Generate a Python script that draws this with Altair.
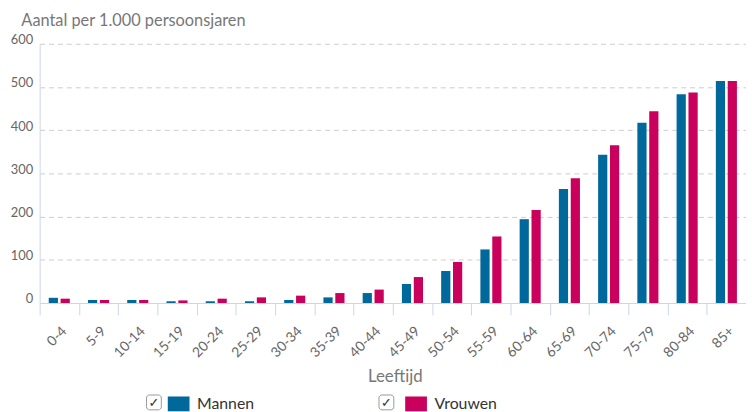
import altair as alt
import pandas as pd

ages = ["0-4", "5-9", "10-14", "15-19", "20-24", "25-29", "30-34", "35-39", "40-44",
        "45-49", "50-54", "55-59", "60-64", "65-69", "70-74", "75-79", "80-84", "85+"]
mannen = [12, 7, 7, 4, 4, 4, 7, 13, 23, 44, 74, 124, 194, 264, 343, 417, 483, 514]
vrouwen = [10, 7, 7, 6, 10, 13, 17, 23, 31, 60, 95, 154, 215, 289, 365, 444, 487, 514]
series = ["Mannen", "Vrouwen"]
colors = ["#01689b", "#ca005d"]
y_ticks = [0, 100, 200, 300, 400, 500, 600]

rows = []
for a, m, v in zip(ages, mannen, vrouwen):
    rows.append({"Leeftijd": a, "Geslacht": series[0], "Waarde": m})
    rows.append({"Leeftijd": a, "Geslacht": series[1], "Waarde": v})
df = pd.DataFrame(rows)

FONT = "Lato"
W, H = 714, 262

bars = alt.Chart(df).mark_bar().encode(
    x=alt.X("Leeftijd:N", sort=ages,
            scale=alt.Scale(paddingInner=0, paddingOuter=0),
            axis=alt.Axis(labelAngle=-45, tickBand="extent", tickSize=12,
                          tickColor="#ccd6eb", domainColor="#ccd6eb",
                          labelColor="#666666", labelFontSize=14, labelFont=FONT,
                          labelPadding=9,
                          title="Leeftijd", titleFont=FONT, titleFontSize=17,
                          titleFontWeight="normal", titleColor="#777777",
                          titleX=359, titleY=79, titleBaseline="alphabetic")),
    xOffset=alt.XOffset("Geslacht:N", sort=series,
                        scale=alt.Scale(paddingInner=0.225, paddingOuter=0.765)),
    y=alt.Y("Waarde:Q", scale=alt.Scale(domain=[0, 600], nice=False),
            axis=alt.Axis(values=y_ticks, grid=True, gridDash=[5, 4], gridColor="#cccccc",
                          ticks=False, domainColor="#ccd6eb",
                          labelColor="#666666", labelFontSize=13, labelFont=FONT,
                          labelPadding=7, labelBaseline="alphabetic",
                          title="Aantal per 1.000 persoonsjaren", titleAngle=0,
                          titleAlign="left", titleBaseline="alphabetic",
                          titleX=-19, titleY=-19, titleFont=FONT, titleFontSize=16.5,
                          titleFontWeight="normal", titleColor="#777777")),
    color=alt.Color("Geslacht:N", sort=series,
                    scale=alt.Scale(domain=series, range=colors),
                    legend=alt.Legend(orient="none", legendX=129, legendY=356,
                                      direction="horizontal", title=None,
                                      symbolType="M-1,-1H1.93V1H-1Z", symbolSize=225,
                                      symbolStrokeWidth=0, labelFontSize=16,
                                      labelFont=FONT, labelColor="#333333",
                                      labelOffset=14, columnPadding=152)),
)

def checkbox(x0):
    box = alt.Chart(pd.DataFrame({"k": [0]})).mark_rect(
        fill="white", stroke="#999999", strokeWidth=1, cornerRadius=3
    ).encode(x=alt.value(x0), x2=alt.value(x0 + 15), y=alt.value(355), y2=alt.value(370))
    tick = alt.Chart(pd.DataFrame({"k": [0]})).mark_text(
        text="✓", font="DejaVu Sans", fontSize=13, color="#333333", fontWeight="bold"
    ).encode(x=alt.value(x0 + 7.5), y=alt.value(363))
    return box + tick

chart = alt.layer(bars, checkbox(108), checkbox(343)).properties(
    width=W, height=H,
    autosize=alt.AutoSizeParams(type="none"),
    padding={"left": 32, "top": 34, "right": 0, "bottom": 108},
).configure_view(stroke=None)

chart.save("out.html", embed_options={"renderer": "svg", "actions": False})
